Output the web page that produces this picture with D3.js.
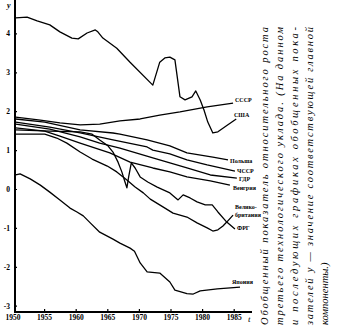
<!DOCTYPE html>
<html><head><meta charset="utf-8">
<script src="https://cdn.jsdelivr.net/npm/d3@7/dist/d3.min.js"></script>
<style>body{margin:0;background:#fff}svg{display:block}</style>
</head><body><svg id="chart" width="345" height="327"></svg>
<script>
// Tick values and labels
const yearTicks = [1950, 1955, 1960, 1965, 1970, 1975, 1980, 1985];
const valueTicks = [4, 3, 2, 1, 0, -1, -2, -3];

// Generalised indicator y by year for each country: [year, y]
const usa = [[1950.5,4.40],[1952.3,4.42],[1953.9,4.32],[1955.9,4.22],[1957.5,4.04],[1959.4,3.88],[1960.4,3.86],[1961.8,4.01],[1963.1,4.09],[1963.5,4.04],[1964.3,3.88],[1966.5,3.62],[1968.6,3.26],[1972.2,2.67],[1973.3,3.26],[1974.1,3.37],[1974.9,3.39],[1975.7,3.32],[1976.5,2.37],[1977.3,2.29],[1978.4,2.37],[1979.0,2.52],[1979.7,2.29],[1980.3,2.03],[1980.9,1.72],[1981.7,1.44],[1982.5,1.47],[1983.8,1.62],[1985.4,1.80]];
const ussr = [[1950.5,1.85],[1954.4,1.77],[1957.5,1.70],[1960.7,1.65],[1963.8,1.67],[1967.0,1.75],[1970.2,1.80],[1973.3,1.90],[1976.5,1.98],[1980.8,2.11],[1984.9,2.21]];
const poland = [[1950.5,1.80],[1955.1,1.72],[1960.7,1.52],[1965.9,1.44],[1967.0,1.41],[1971.3,1.26],[1974.9,1.11],[1977.6,0.93],[1981.7,0.82],[1984.1,0.75]];
const czech = [[1950.5,1.72],[1955.9,1.59],[1960.7,1.44],[1965.9,1.26],[1971.3,1.08],[1972.2,1.00],[1974.9,0.90],[1977.6,0.75],[1980.8,0.62],[1985.2,0.46]];
const gdr = [[1950.5,1.67],[1955.9,1.54],[1960.7,1.34],[1963.8,1.18],[1967.0,1.05],[1972.2,0.80],[1974.9,0.67],[1977.6,0.54],[1981.3,0.36],[1985.5,0.28]];
const hungary = [[1950.5,1.57],[1955.1,1.49],[1957.5,1.36],[1960.7,1.18],[1965.4,0.93],[1968.6,0.69],[1972.2,0.54],[1974.9,0.44],[1977.6,0.31],[1981.3,0.21],[1984.4,0.10]];
const frg = [[1950.5,1.52],[1955.9,1.49],[1960.7,1.47],[1962.6,1.41],[1963.8,1.26],[1965.1,1.11],[1965.9,0.95],[1966.7,0.69],[1967.3,0.44],[1967.8,0.18],[1968.1,0.03],[1968.4,0.33],[1968.8,0.67],[1969.4,0.54],[1970.2,0.31],[1971.4,0.18],[1972.9,0.05],[1974.9,-0.10],[1976.2,-0.28],[1977.0,-0.15],[1978.1,-0.23],[1979.2,-0.33],[1980.5,-0.41],[1981.6,-0.41],[1982.5,-0.59],[1983.9,-0.85],[1985.2,-1.03]];
const britain = [[1950.5,1.41],[1955.1,1.41],[1957.0,1.31],[1958.6,1.18],[1960.7,0.95],[1962.6,0.77],[1965.0,0.59],[1966.5,0.44],[1968.1,0.23],[1969.4,0.05],[1970.7,-0.10],[1971.8,-0.26],[1973.8,-0.46],[1975.4,-0.62],[1976.5,-0.67],[1977.6,-0.72],[1979.2,-0.87],[1980.8,-1.00],[1981.7,-1.08],[1982.5,-1.05],[1983.3,-0.95],[1983.9,-0.85],[1984.9,-0.67]];
const japan = [[1950.5,0.36],[1951.2,0.39],[1952.8,0.26],[1954.4,0.10],[1955.9,-0.08],[1957.5,-0.28],[1959.1,-0.49],[1960.2,-0.59],[1961.2,-0.69],[1962.3,-0.87],[1963.8,-1.11],[1965.9,-1.29],[1967.0,-1.39],[1968.6,-1.52],[1969.3,-1.60],[1970.2,-1.90],[1971.3,-2.13],[1973.3,-2.16],[1974.9,-2.39],[1975.7,-2.60],[1977.6,-2.69],[1978.6,-2.70],[1979.7,-2.62],[1982.4,-2.57],[1986.0,-2.52]];

const seriesList = [usa, ussr, poland, czech, gdr, hungary, frg, britain, japan];

// Country labels at the line ends: [text lines, x, baseline y]
const seriesLabels = [
  [["СССР"], 235, 102],
  [["США"], 234, 117],
  [["Польша"], 230, 163],
  [["ЧССР"], 237, 173],
  [["ГДР"], 239, 181],
  [["Венгрия"], 233, 190],
  [["Велико-", "британия"], 235, 209],
  [["ФРГ"], 237, 230],
  [["Япония"], 232, 284]
];

const captionLines = [
  "Обобщенный показатель относительного роста",
  "третьего технологического уклада. (На данном",
  "и последующих графиках обобщенных пока-",
  "зателей y — значение соответствующей главной",
  "компоненты.)"
];

const svg = d3.select("#chart");
const x = d3.scaleLinear().domain([1950, 1985]).range([12.5, 233.7]);
const y = d3.scaleLinear().domain([-3, 4]).range([305.7, 33.4]);
const axisX = 15, axisY = 312;
const serif = "'Liberation Serif', 'DejaVu Serif', serif";

// Axis lines
svg.append("line").attr("x1", axisX).attr("x2", axisX).attr("y1", 0).attr("y2", axisY + 1)
  .attr("stroke", "#000").attr("stroke-width", 2);
svg.append("line").attr("x1", axisX - 1).attr("x2", 252).attr("y1", axisY).attr("y2", axisY)
  .attr("stroke", "#000").attr("stroke-width", 2);

// Bottom axis: year ticks
const gx = svg.append("g").attr("transform", `translate(0,${axisY})`)
  .call(d3.axisBottom(x).tickValues(yearTicks).tickFormat(d3.format("d")).tickSize(-3).tickPadding(3));
gx.select(".domain").remove();
gx.selectAll(".tick line").attr("stroke-width", 1.2).filter(d => d === 1950).remove();
gx.selectAll(".tick text").attr("font-family", serif).attr("font-size", 7.5).attr("font-weight", "bold");

// Left axis: value ticks
const gy = svg.append("g").attr("transform", `translate(${axisX},0)`)
  .call(d3.axisLeft(y).tickValues(valueTicks).tickFormat(d => d < 0 ? "-" + Math.abs(d) : String(d)).tickSize(-2).tickPadding(5));
gy.select(".domain").remove();
gy.selectAll(".tick line").attr("stroke-width", 1.2);
gy.selectAll(".tick text").attr("font-family", serif).attr("font-size", 7.5).attr("font-weight", "bold");

// Axis names
svg.append("text").attr("x", 7).attr("y", 8).attr("font-family", serif).attr("font-style", "italic")
  .attr("font-weight", "bold").attr("font-size", 8).text("y");
svg.append("text").attr("x", 248).attr("y", 322).attr("font-family", serif).attr("font-style", "italic")
  .attr("font-size", 9).text("t");

// Country lines
const line = d3.line().x(d => x(d[0])).y(d => y(d[1]));
svg.append("g").selectAll("path").data(seriesList).join("path")
  .attr("d", line).attr("fill", "none").attr("stroke", "#000")
  .attr("stroke-width", 1.3).attr("stroke-linejoin", "round");

// Country labels
const lab = svg.append("g").attr("font-family", serif).attr("font-size", 6).attr("font-weight", "bold");
seriesLabels.forEach(([lines, lx, ly]) => {
  lines.forEach((t, i) => lab.append("text").attr("x", lx).attr("y", ly + i * 8).text(t));
});

// Vertical caption on the right
const cap = svg.append("g").attr("font-family", serif).attr("font-style", "italic").attr("font-size", 10.5);
captionLines.forEach((t, i) => {
  const tx = cap.append("text")
    .attr("transform", `translate(${268 + i * 15},325) rotate(-90)`)
    .text(t);
  if (i < captionLines.length - 1) tx.attr("textLength", 298).attr("lengthAdjust", "spacing");
});
</script></body></html>
